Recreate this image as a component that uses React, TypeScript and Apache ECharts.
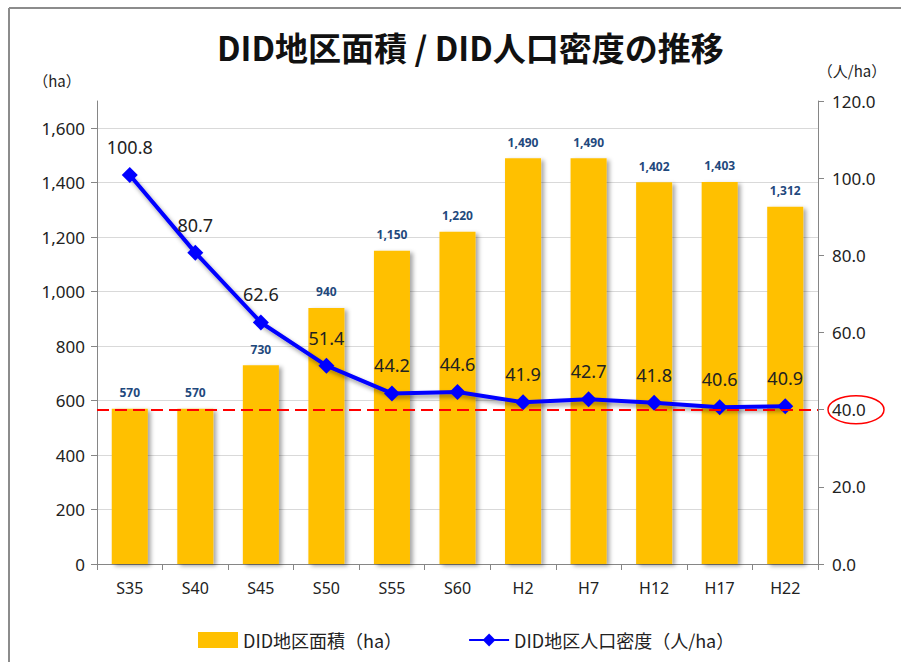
import React, { useEffect, useRef } from "react";
import * as echarts from "echarts";

const categories = ["S35", "S40", "S45", "S50", "S55", "S60", "H2", "H7", "H12", "H17", "H22"];
const areaValues = [570, 570, 730, 940, 1150, 1220, 1490, 1490, 1402, 1403, 1312];
const densityValues = [100.8, 80.7, 62.6, 51.4, 44.2, 44.6, 41.9, 42.7, 41.8, 40.6, 40.9];
const referenceDensity = 40;
const titleText = "DID地区面積 / DID人口密度の推移";
const areaName = "DID地区面積（ha）";
const densityName = "DID地区人口密度（人/ha）";

const NUM_FONT = "'Noto Sans', sans-serif";
const JP_FONT = "'Noto Sans CJK JP', 'Noto Sans', sans-serif";

export default function App() {
  const ref = useRef<HTMLDivElement>(null);
  useEffect(() => {
    if (!ref.current) return;
    document.body.style.margin = "0";
    const chart = echarts.init(ref.current, null, { renderer: "svg" });
    chart.setOption({
      animation: false,
      backgroundColor: "#ffffff",
      title: {
        text: titleText,
        left: 212,
        top: 25,
        textStyle: { fontFamily: JP_FONT, fontSize: 33, fontWeight: "bold", color: "#111" },
      },
      grid: { left: 97, right: 83, top: 101, bottom: 98 },
      legend: {
        left: 193,
        top: 626,
        itemWidth: 40,
        itemHeight: 16,
        itemGap: 66,
        textStyle: { fontFamily: JP_FONT, fontSize: 18, color: "#222" },
        data: [
          { name: areaName, icon: "rect" },
          { name: densityName },
        ],
      },
      xAxis: {
        type: "category",
        data: categories,
        axisLine: { lineStyle: { color: "#868686", width: 1 } },
        axisTick: { show: true, length: 6, lineStyle: { color: "#868686" } },
        axisLabel: { margin: 16, fontSize: 16, color: "#222", fontFamily: NUM_FONT },
      },
      yAxis: [
        {
          type: "value",
          min: 0,
          max: 1700,
          interval: 200,
          axisLine: { show: true, lineStyle: { color: "#868686" } },
          axisTick: { show: true, length: 6, lineStyle: { color: "#868686" } },
          axisLabel: {
            margin: 12,
            fontSize: 17,
            color: "#222",
            fontFamily: NUM_FONT,
            showMaxLabel: false,
            formatter: (v: number) => (v > 1600 ? "" : v.toLocaleString("en-US")),
          },
          splitLine: { show: true, showMaxLine: false, lineStyle: { color: "#d9d9d9" } },
        },
        {
          type: "value",
          min: 0,
          max: 120,
          interval: 20,
          position: "right",
          axisLine: { show: true, lineStyle: { color: "#868686" } },
          axisTick: { show: true, length: 6, lineStyle: { color: "#868686" } },
          axisLabel: {
            margin: 14,
            fontSize: 17,
            color: "#222",
            fontFamily: NUM_FONT,
            formatter: (v: number) => v.toFixed(1),
          },
          splitLine: { show: false },
        },
      ],
      series: [
        {
          name: areaName,
          type: "bar",
          data: areaValues,
          barWidth: "55%",
          itemStyle: {
            color: "#FFC000",
            shadowColor: "rgba(0,0,0,0.35)",
            shadowBlur: 4,
            shadowOffsetX: 3,
            shadowOffsetY: 2,
          },
          label: {
            show: true,
            position: "top",
            distance: 10,
            fontSize: 12,
            fontWeight: "bold",
            color: "#1F497D",
            fontFamily: "'Noto Sans', sans-serif",
            formatter: (p: any) => Number(p.value).toLocaleString("en-US"),
          },
        },
        {
          name: densityName,
          type: "line",
          yAxisIndex: 1,
          data: densityValues,
          symbol: "diamond",
          symbolSize: 16,
          z: 3,
          lineStyle: {
            color: "#0000FF",
            width: 4,
            shadowColor: "rgba(0,0,0,0.4)",
            shadowBlur: 4,
            shadowOffsetX: 2,
            shadowOffsetY: 3,
          },
          itemStyle: { color: "#0000FF" },
          label: {
            show: true,
            position: "top",
            distance: 11,
            fontSize: 18,
            color: "#222",
            fontFamily: "'Noto Sans', sans-serif",
            formatter: (p: any) => Number(p.value).toFixed(1),
          },
        },
        {
          name: "reference",
          type: "line",
          yAxisIndex: 1,
          data: [],
          z: 10,
          markLine: {
            silent: true,
            z: 10,
            symbol: "none",
            label: { show: false },
            lineStyle: { color: "#FF0000", type: [12, 6], width: 2 },
            data: [{ yAxis: referenceDensity }],
          },
        },
      ],
    });
    const y40 = chart.convertToPixel({ yAxisIndex: 1 }, referenceDensity) as number;
    chart.setOption({
      graphic: [
        {
          type: "line",
          shape: { x1: 9, y1: 8, x2: 901, y2: 8 },
          style: { stroke: "#8c8c8c", lineWidth: 2 },
        },
        {
          type: "line",
          shape: { x1: 9, y1: 8, x2: 9, y2: 662 },
          style: { stroke: "#8c8c8c", lineWidth: 2 },
        },
        {
          type: "text",
          x: 57,
          y: 80,
          style: { text: "（ha）", fontSize: 15, fontFamily: JP_FONT, fill: "#222", align: "center", verticalAlign: "middle" },
        },
        {
          type: "text",
          x: 852,
          y: 70,
          style: { text: "（人/ha）", fontSize: 15, fontFamily: JP_FONT, fill: "#222", align: "center", verticalAlign: "middle" },
        },
        {
          type: "ellipse",
          shape: { cx: 856, cy: y40, rx: 28, ry: 14 },
          style: { fill: "none", stroke: "#FF0000", lineWidth: 1.5 },
        },
      ],
    });
    return () => chart.dispose();
  }, []);
  return <div ref={ref} style={{ position: "fixed", left: 0, top: 0, width: 901, height: 662 }} />;
}
